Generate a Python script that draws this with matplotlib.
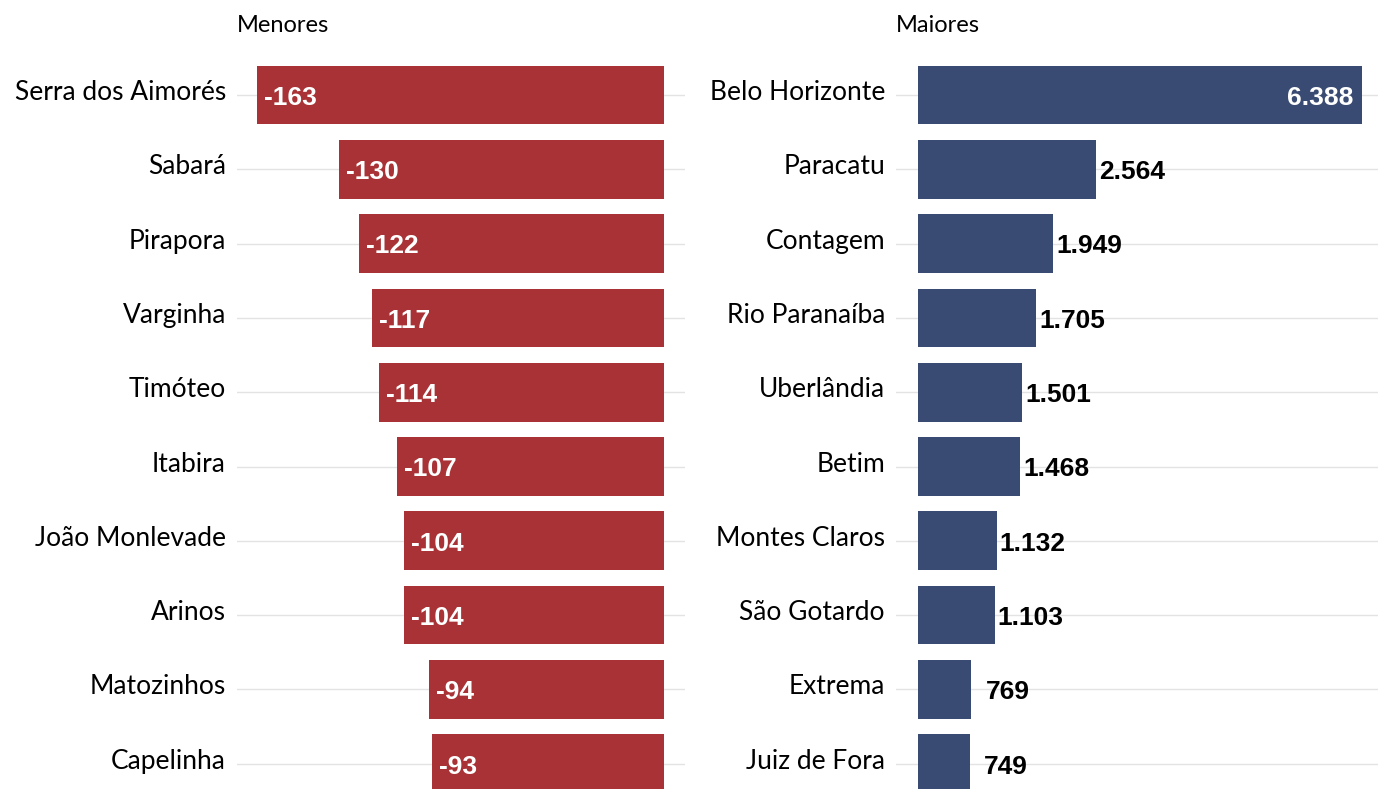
import matplotlib
matplotlib.use("Agg")
import matplotlib.pyplot as plt
from matplotlib.transforms import ScaledTranslation

# dados
menores = ["Serra dos Aimorés", "Sabará", "Pirapora", "Varginha", "Timóteo",
           "Itabira", "João Monlevade", "Arinos", "Matozinhos", "Capelinha"]
menores_val = [-163, -130, -122, -117, -114, -107, -104, -104, -94, -93]

maiores = ["Belo Horizonte", "Paracatu", "Contagem", "Rio Paranaíba", "Uberlândia",
           "Betim", "Montes Claros", "São Gotardo", "Extrema", "Juiz de Fora"]
maiores_val = [6388, 2564, 1949, 1705, 1501, 1468, 1132, 1103, 769, 749]

vermelho = "#A83235"
azul = "#394B73"
cat_font = ["Lato", "DejaVu Sans"]
num_font = "Liberation Sans"


def fmt(v):
    return f"{v:,}".replace(",", ".")


fig = plt.figure(figsize=(13.78, 7.89), dpi=100)
ax1 = fig.add_axes([237 / 1378, 0, 448 / 1378, 749 / 789])
ax2 = fig.add_axes([896 / 1378, 0, 482 / 1378, 749 / 789])

pos = list(range(len(menores)))
ylim = (9.34, -0.74)

# painel esquerdo
ax1.barh(pos, menores_val, height=0.79, color=vermelho, zorder=2)
ax1.set_xlim(-171, 8.4)
for i, v in enumerate(menores_val):
    ax1.annotate(fmt(v), (v, i), xytext=(5, -2), textcoords="offset points",
                 ha="left", va="center", color="white", fontsize=19,
                 fontweight="bold", family=num_font, zorder=3)

# painel direito
ax2.barh(pos, maiores_val, height=0.79, color=azul, zorder=2)
ax2.set_xlim(-316, 6618)
for i, v in enumerate(maiores_val):
    if i == 0:
        ax2.annotate(fmt(v), (v, i), xytext=(-6, -2), textcoords="offset points",
                     ha="right", va="center", color="white", fontsize=19,
                     fontweight="bold", family=num_font, zorder=3)
    else:
        ax2.annotate(fmt(v), (v, i), xytext=(26, -2), textcoords="offset points",
                     ha="center", va="center", color="black", fontsize=19,
                     fontweight="bold", family=num_font, zorder=3)

up = ScaledTranslation(0, 0.05, fig.dpi_scale_trans)
for ax, nomes, titulo in [(ax1, menores, "Menores"), (ax2, maiores, "Maiores")]:
    ax.set_ylim(*ylim)
    ax.set_yticks(pos)
    ax.set_yticklabels(nomes, fontsize=19, family=cat_font)
    ax.tick_params(axis="y", length=0, pad=8)
    for lab in ax.get_yticklabels():
        lab.set_transform(lab.get_transform() + up)
    ax.set_xticks([])
    ax.grid(axis="y", color="#e3e3e3", linewidth=1, zorder=0)
    for s in ax.spines.values():
        s.set_visible(False)
    ax.text(0, 1.0 + 15 / 749, titulo, transform=ax.transAxes, ha="left",
            va="center", fontsize=17, family=cat_font)

fig.savefig("out.png", dpi=100)
